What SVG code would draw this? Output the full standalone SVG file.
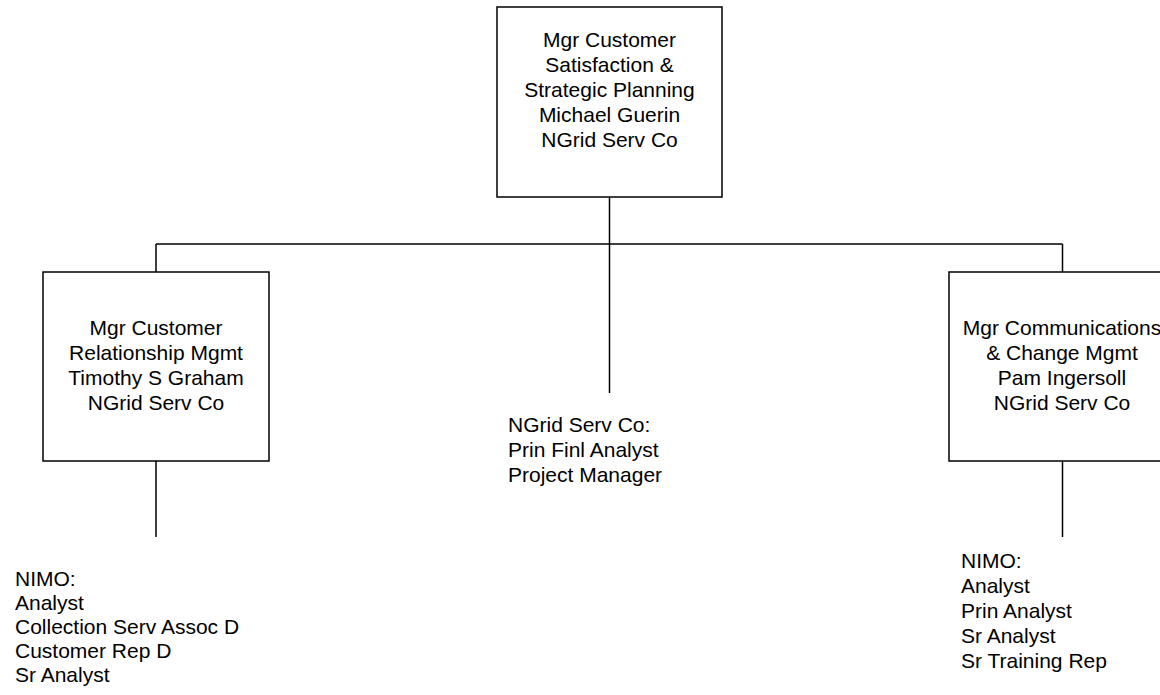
<svg xmlns="http://www.w3.org/2000/svg" width="1160" height="695" viewBox="0 0 1160 695">
<style>
.box{fill:#fff;stroke:#000;stroke-width:1.5}
.ln{stroke:#000;stroke-width:1.5;fill:none}
text{font-family:"Liberation Sans",Arial,sans-serif;font-size:21px;fill:#000}
.c{text-anchor:middle}
</style>
<rect width="1160" height="695" fill="#fff"/>
<g id="connectors">
<line class="ln" x1="609.5" y1="197" x2="609.5" y2="244"/>
<line class="ln" x1="156" y1="244" x2="1062.5" y2="244"/>
<line class="ln" x1="156" y1="244" x2="156" y2="272"/>
<line class="ln" x1="1062.5" y1="244" x2="1062.5" y2="272"/>
<line class="ln" x1="609.5" y1="244" x2="609.5" y2="393"/>
<line class="ln" x1="156" y1="461" x2="156" y2="537"/>
<line class="ln" x1="1062.5" y1="461" x2="1062.5" y2="537"/>
</g>
<g id="node-top">
<rect class="box" x="497" y="7" width="225" height="190"/>
<text class="c" x="609.5" y="47">Mgr Customer</text>
<text class="c" x="609.5" y="72">Satisfaction &amp;</text>
<text class="c" x="609.5" y="97">Strategic Planning</text>
<text class="c" x="609.5" y="122">Michael Guerin</text>
<text class="c" x="609.5" y="147">NGrid Serv Co</text>
</g>
<g id="node-left">
<rect class="box" x="43" y="272" width="226" height="189"/>
<text class="c" x="156" y="335">Mgr Customer</text>
<text class="c" x="156" y="360">Relationship Mgmt</text>
<text class="c" x="156" y="385">Timothy S Graham</text>
<text class="c" x="156" y="410">NGrid Serv Co</text>
</g>
<g id="node-right">
<rect class="box" x="949" y="272" width="226" height="189"/>
<text class="c" x="1062" y="335">Mgr Communications</text>
<text class="c" x="1062" y="360">&amp; Change Mgmt</text>
<text class="c" x="1062" y="385">Pam Ingersoll</text>
<text class="c" x="1062" y="410">NGrid Serv Co</text>
</g>
<g id="node-middle">
<text x="508" y="432">NGrid Serv Co:</text>
<text x="508" y="457">Prin Finl Analyst</text>
<text x="508" y="482">Project Manager</text>
</g>
<g id="node-left-staff">
<text x="15" y="586">NIMO:</text>
<text x="15" y="610">Analyst</text>
<text x="15" y="634">Collection Serv Assoc D</text>
<text x="15" y="658">Customer Rep D</text>
<text x="15" y="682">Sr Analyst</text>
</g>
<g id="node-right-staff">
<text x="961" y="568">NIMO:</text>
<text x="961" y="593">Analyst</text>
<text x="961" y="618">Prin Analyst</text>
<text x="961" y="643">Sr Analyst</text>
<text x="961" y="668">Sr Training Rep</text>
</g>
</svg>
